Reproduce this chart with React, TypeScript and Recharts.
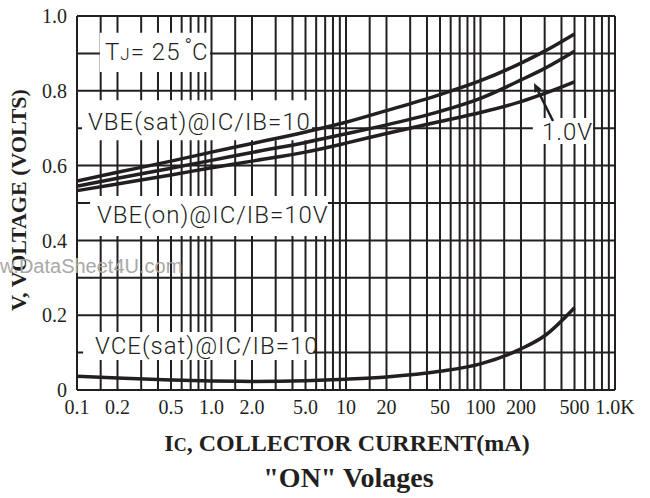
import React from 'react';
import { LineChart, Line, XAxis, YAxis, CartesianGrid, ReferenceArea } from 'recharts';

// collector current (mA) and the four curves
const currents = [0.1, 0.2, 0.5, 1, 2, 5, 10, 20, 50, 100, 200, 300, 500];
const vbeSat = [0.559, 0.582, 0.612, 0.636, 0.659, 0.69, 0.716, 0.747, 0.79, 0.827, 0.874, 0.906, 0.952];
const vbeOn1V = [0.545, 0.566, 0.593, 0.614, 0.635, 0.662, 0.685, 0.709, 0.745, 0.78, 0.829, 0.86, 0.906];
const vbeOn10V = [0.533, 0.551, 0.575, 0.594, 0.612, 0.636, 0.66, 0.686, 0.718, 0.742, 0.771, 0.793, 0.824];
const vceSat = [0.037, 0.032, 0.027, 0.024, 0.023, 0.025, 0.029, 0.035, 0.05, 0.07, 0.11, 0.145, 0.22];

// grid + tick labels
const gridCurrents = [
  0.1, 0.15, 0.2, 0.3, 0.4, 0.5, 0.6, 0.7, 0.8, 0.9,
  1, 1.5, 2, 3, 4, 5, 6, 7, 8, 9,
  10, 15, 20, 30, 40, 50, 60, 70, 80, 90,
  100, 150, 200, 300, 400, 500, 600, 700, 800, 900, 1000,
];
const labeledCurrents = [0.1, 0.2, 0.5, 1, 2, 5, 10, 20, 50, 100, 200, 500, 1000];
const currentLabels = ['0.1', '0.2', '0.5', '1.0', '2.0', '5.0', '10', '20', '50', '100', '200', '500', '1.0K'];
const gridVoltages = [0, 0.1, 0.2, 0.3, 0.4, 0.5, 0.6, 0.7, 0.8, 0.9, 1];
const labeledVoltages = [0, 0.2, 0.4, 0.6, 0.8, 1];
const voltageLabels = ['0', '0.2', '0.4', '0.6', '0.8', '1.0'];

const data = currents.map((ic, i) => ({
  ic,
  vbeSat: vbeSat[i],
  vbeOn1V: vbeOn1V[i],
  vbeOn10V: vbeOn10V[i],
  vceSat: vceSat[i],
}));

// white label backgrounds that knock out the grid (data units)
const labelBoxes = [
  { x1: 0.148, x2: 0.975, y1: 0.85, y2: 0.955 },
  { x1: 0.109, x2: 5.59, y1: 0.668, y2: 0.775 },
  { x1: 0.125, x2: 7.35, y1: 0.412, y2: 0.519 },
  { x1: 245, x2: 686, y1: 0.658, y2: 0.727 },
  { x1: 0.111, x2: 5.68, y1: 0.08, y2: 0.155 },
];

const ink = '#231f20';
const serif = '"Liberation Serif", "Times New Roman", serif';
const sans = 'Roboto, "Liberation Sans", Arial, sans-serif';

const fmtCurrent = (v: number) => {
  const i = labeledCurrents.indexOf(v);
  return i >= 0 ? currentLabels[i] : '';
};
const fmtVoltage = (v: number) => {
  const i = labeledVoltages.indexOf(v);
  return i >= 0 ? voltageLabels[i] : '';
};

const note = (left: number, top: number): React.CSSProperties => ({
  position: 'absolute',
  left,
  top,
  fontFamily: sans,
  fontWeight: 300,
  fontSize: 24,
  lineHeight: '24px',
  letterSpacing: 1,
  color: ink,
  whiteSpace: 'nowrap',
});

export default function App() {
  return (
    <div style={{ position: 'absolute', left: 0, top: 0, width: 650, height: 498, background: '#fff' }}>
      <LineChart width={650} height={498} data={data} margin={{ top: 16, right: 35, left: 0, bottom: 0 }}>
        <CartesianGrid stroke={ink} strokeWidth={2} />
        <XAxis
          dataKey="ic"
          type="number"
          scale="log"
          domain={[0.1, 1000]}
          allowDataOverflow
          ticks={gridCurrents}
          interval={0}
          tickFormatter={fmtCurrent}
          axisLine={false}
          tickLine={false}
          tickSize={0}
          tickMargin={10}
          height={108}
          tick={{ fill: ink, fontSize: 20, fontFamily: serif }}
        />
        <YAxis
          type="number"
          domain={[0, 1]}
          ticks={gridVoltages}
          interval={0}
          tickFormatter={fmtVoltage}
          axisLine={false}
          tickLine={false}
          tickSize={0}
          tickMargin={10}
          width={77}
          tick={{ fill: ink, fontSize: 20, fontFamily: serif }}
        />
        {labelBoxes.map((b, i) => (
          <ReferenceArea
            key={i}
            x1={b.x1}
            x2={b.x2}
            y1={b.y1}
            y2={b.y2}
            fill="#fff"
            fillOpacity={1}
            stroke="none"
            ifOverflow="visible"
            zIndex={50}
          />
        ))}
        <Line type="monotone" dataKey="vbeSat" stroke={ink} strokeWidth={3.5} dot={false} isAnimationActive={false} />
        <Line type="monotone" dataKey="vbeOn1V" stroke={ink} strokeWidth={3.5} dot={false} isAnimationActive={false} />
        <Line type="monotone" dataKey="vbeOn10V" stroke={ink} strokeWidth={3.5} dot={false} isAnimationActive={false} />
        <Line type="monotone" dataKey="vceSat" stroke={ink} strokeWidth={3.5} dot={false} isAnimationActive={false} />
      </LineChart>

      {/* curve labels */}
      <div style={note(105, 40)}>
        T<span style={{ fontSize: 17 }}>J</span>= 25
        <span style={{ position: 'relative', top: -7, marginLeft: 4, fontSize: 20, letterSpacing: 0 }}>°</span>C
      </div>
      <div style={note(88, 110)}>VBE(sat)@IC/IB=10</div>
      <div style={note(97, 203)}>VBE(on)@IC/IB=10V</div>
      <div style={note(542, 120)}>1.0V</div>
      <div style={note(95, 334)}>VCE(sat)@IC/IB=10</div>

      <svg width={650} height={498} style={{ position: 'absolute', left: 0, top: 0, pointerEvents: 'none' }}>
        <line x1={553} y1={121} x2={538} y2={91} stroke={ink} strokeWidth={2.5} />
        <polygon points="534,83 541.6,89.2 534.4,92.8" fill={ink} />
      </svg>

      {/* axis titles */}
      <div
        style={{
          position: 'absolute',
          left: 19,
          top: 200,
          transform: 'translate(-50%, -50%) rotate(-90deg)',
          fontFamily: serif,
          fontWeight: 700,
          fontSize: 22,
          lineHeight: '22px',
          color: ink,
          whiteSpace: 'nowrap',
        }}
      >
        V, VOLTAGE (VOLTS)
      </div>
      <div
        style={{
          position: 'absolute',
          left: 0,
          width: 694,
          top: 431,
          textAlign: 'center',
          fontFamily: serif,
          fontWeight: 700,
          fontSize: 24,
          lineHeight: '24px',
          color: ink,
          whiteSpace: 'nowrap',
        }}
      >
        I<span style={{ fontSize: 18 }}>C</span>, COLLECTOR CURRENT(mA)
      </div>
      <div
        style={{
          position: 'absolute',
          left: 0,
          width: 697,
          top: 464,
          textAlign: 'center',
          fontFamily: serif,
          fontWeight: 700,
          fontSize: 28,
          lineHeight: '28px',
          color: ink,
          whiteSpace: 'nowrap',
        }}
      >
        "ON" Volages
      </div>

      {/* watermark (left part is cropped off in the source scan) */}
      <div
        style={{
          position: 'absolute',
          left: 0,
          top: 256,
          fontFamily: '"Liberation Sans", Arial, sans-serif',
          fontSize: 20,
          lineHeight: '20px',
          color: '#a8a8a8',
          whiteSpace: 'nowrap',
        }}
      >
        w.DataSheet4U.com
      </div>
    </div>
  );
}
